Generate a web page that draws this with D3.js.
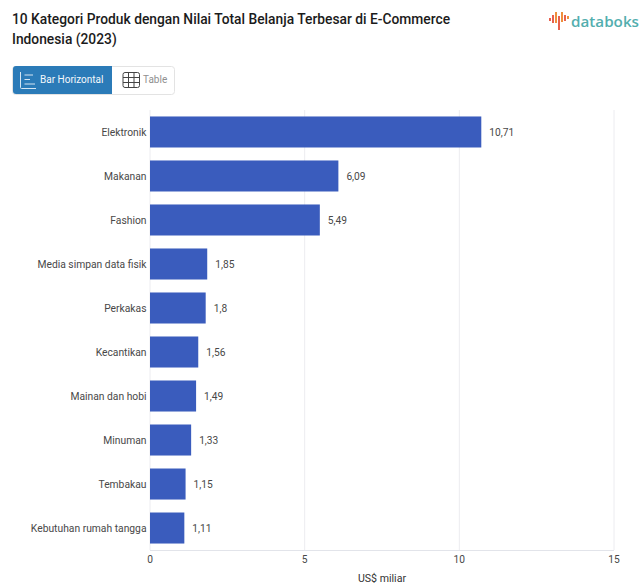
<!DOCTYPE html>
<html>
<head>
<meta charset="utf-8">
<script src="https://cdn.jsdelivr.net/npm/d3@7/dist/d3.min.js"></script>
<style>
html,body{margin:0;padding:0;background:#fff;}
svg{display:block;font-family:Roboto,"Liberation Sans",sans-serif;}
</style>
</head>
<body>
<div id="chart"></div>
<script>
const categories = ["Elektronik","Makanan","Fashion","Media simpan data fisik","Perkakas","Kecantikan","Mainan dan hobi","Minuman","Tembakau","Kebutuhan rumah tangga"];
const values = [10.71,6.09,5.49,1.85,1.8,1.56,1.49,1.33,1.15,1.11];
const valueLabels = ["10,71","6,09","5,49","1,85","1,8","1,56","1,49","1,33","1,15","1,11"];
const xTicks = [0,5,10,15];
const titleLines = ["10 Kategori Produk dengan Nilai Total Belanja Terbesar di E-Commerce","Indonesia (2023)"];
// Logo glyph: column index, top offset, height, colour
const logoBars = [[0,6,3,"#e8604c"],[1,3,8,"#e8604c"],[2,0,11,"#ef8f3c"],[3,4,14,"#e8604c"],[4,0,10,"#ef8f3c"],[5,3,6,"#e8604c"],[6,4,3,"#ef8f3c"]];

const svg = d3.select("#chart").append("svg").attr("width",641).attr("height",585);

const x = d3.scaleLinear().domain([0,15]).range([150,614]);
const y = d3.scaleBand().domain(categories).range([110,550]).paddingInner(0.295).paddingOuter(0.147);

// Title
svg.append("g").selectAll("text").data(titleLines).join("text")
  .attr("x",12).attr("y",(d,i)=>23.5+i*20)
  .attr("font-size",13.8).attr("font-weight",500).attr("fill","#1b1b1b")
  .text(d=>d);

// Logo
const logo = svg.append("g").attr("transform","translate(549,12)");
logo.selectAll("rect").data(logoBars).join("rect")
  .attr("x",d=>d[0]*3).attr("y",d=>d[1]).attr("width",2).attr("height",d=>d[2])
  .attr("fill",d=>d[3]);
svg.append("text").attr("x",571).attr("y",26.5).attr("font-size",15.2).attr("font-weight",600)
  .attr("font-family","'Open Sans',sans-serif").attr("textLength",68).attr("fill","#52aeae").text("databoks");

// View switcher
const sw = svg.append("g");
sw.append("rect").attr("x",12.5).attr("y",66.5).attr("width",162).attr("height",28).attr("rx",3)
  .attr("fill","#fff").attr("stroke","#e3e3e3");
sw.append("path").attr("d","M13,69a3,3 0 0 1 3,-3H112V94H16a3,3 0 0 1 -3,-3Z").attr("fill","#2b7bb8");
sw.append("path").attr("d","M20.5,72V87.5a1,1 0 0 0 1,1H36M24.5,75H33M24.5,79.5H30M24.5,84H35")
  .attr("fill","none").attr("stroke","#d5e6f3").attr("stroke-width",1);
sw.append("text").attr("x",40).attr("y",83).attr("font-size",10).attr("fill","#f4f8fb").text("Bar Horizontal");
const grid = sw.append("g").attr("fill","none").attr("stroke","#444").attr("stroke-width",1);
grid.append("rect").attr("x",123).attr("y",72.5).attr("width",16.5).attr("height",15).attr("rx",2);
grid.append("path").attr("d","M128.5,72.5V87.5M134,72.5V87.5M123,77.5H139.5M123,82.5H139.5");
sw.append("text").attr("x",143).attr("y",83).attr("font-size",10).attr("fill","#8f8f8f").text("Table");

// Gridlines and baseline
svg.append("g").selectAll("line").data(xTicks).join("line")
  .attr("x1",d=>x(d)).attr("x2",d=>x(d)).attr("y1",110).attr("y2",550)
  .attr("stroke","#ececf0").attr("stroke-width",1);
svg.append("line").attr("x1",150).attr("x2",614).attr("y1",550.5).attr("y2",550.5)
  .attr("stroke","#e2e4ea").attr("stroke-width",1);

// Bars
const rows = categories.map((c,i)=>({c,v:values[i],l:valueLabels[i]}));
svg.append("g").selectAll("rect").data(rows).join("rect")
  .attr("x",x(0)).attr("y",d=>y(d.c)).attr("width",d=>x(d.v)-x(0)).attr("height",y.bandwidth())
  .attr("fill","#3a5cbd");

// Category labels
svg.append("g").selectAll("text").data(rows).join("text")
  .attr("x",146.5).attr("y",d=>y(d.c)+y.bandwidth()/2+3.6).attr("text-anchor","end")
  .attr("font-size",10.3).attr("fill","#484848").text(d=>d.c);

// Value labels
svg.append("g").selectAll("text").data(rows).join("text")
  .attr("x",d=>x(d.v)+8).attr("y",d=>y(d.c)+y.bandwidth()/2+3.6)
  .attr("font-size",10.2).attr("fill","#484848").text(d=>d.l);

// X axis
svg.append("g").selectAll("text").data(xTicks).join("text")
  .attr("x",d=>x(d)).attr("y",563).attr("text-anchor","middle")
  .attr("font-size",10.2).attr("fill","#484848").text(d=>d);
svg.append("text").attr("x",382).attr("y",582).attr("text-anchor","middle")
  .attr("font-size",10.6).attr("fill","#333").text("US$ miliar");
</script>
</body>
</html>
